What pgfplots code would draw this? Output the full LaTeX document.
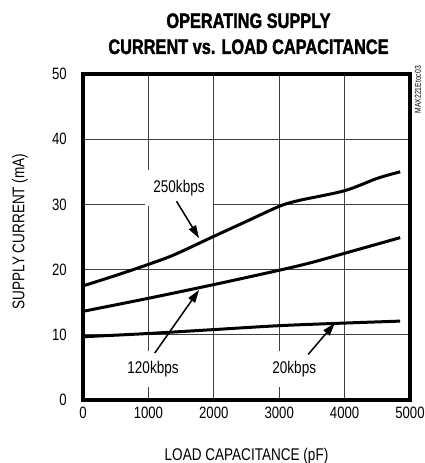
\documentclass[border=0pt]{standalone}
\usepackage{fontspec}
\setmainfont{Liberation Sans}[FakeStretch=0.8]
\newfontfamily\titlefont{Liberation Sans}[FakeStretch=0.78, BoldFeatures={FakeStretch=0.78, FakeBold=1.6}]
\newfontfamily\smallfont{Liberation Sans}[FakeStretch=0.8]
\usepackage{pgfplots}
\pgfplotsset{compat=1.18}
\usetikzlibrary{arrows.meta}
\begin{document}
\begin{tikzpicture}
\path[use as bounding box] (-83bp,-63bp) rectangle (342bp,400bp);
\begin{axis}[
  at={(0,0)}, anchor=south west,
  width=327bp, height=326bp, scale only axis,
  xmin=0, xmax=5000, ymin=0, ymax=50,
  xtick={0,1000,2000,3000,4000,5000},
  ytick={0,10,20,30,40,50},
  major tick length=0pt,
  clip mode=individual,
  /pgf/number format/assume math mode=true,
  /pgf/number format/1000 sep={},
  scaled x ticks=false,
  grid=major,
  major grid style={black!75, line width=0.8bp},
  axis line style={line width=4bp},
  tick label style={font=\fontsize{16.5}{19}\selectfont, inner sep=0pt},
  xticklabel style={anchor=north, yshift=-7bp},
  yticklabel style={anchor=east, xshift=-16bp},
  label style={font=\fontsize{17}{20}\selectfont, inner sep=0pt},
  xlabel={LOAD CAPACITANCE (pF)},
  xlabel style={at={(axis description cs:0.5,0)}, anchor=north, yshift=-48bp},
  ylabel={SUPPLY CURRENT (mA)},
  ylabel style={at={(axis description cs:-0.193,0.517)}, anchor=center},
]
\addplot[black, line width=3bp, smooth, no marks] coordinates {(0,17.5) (500,19.1) (1000,20.8) (1400,22.3) (2000,25.1) (2500,27.4) (3000,29.7) (3300,30.6) (4000,32.1) (4500,34.0) (4850,35.0)};
\addplot[black, line width=3bp, smooth, no marks] coordinates {(0,13.6) (1000,15.6) (2000,17.7) (3000,19.9) (3500,21.1) (4000,22.5) (4850,24.9)};
\addplot[black, line width=3bp, smooth, no marks] coordinates {(0,9.7) (1000,10.2) (2000,10.8) (3000,11.4) (4000,11.8) (4850,12.1)};
\node[fill=white, inner xsep=8bp, inner ysep=10bp, font=\fontsize{17}{19}\selectfont] at (axis cs:1468,32.5) {250kbps};
\node[fill=white, inner xsep=8bp, inner ysep=10bp, font=\fontsize{17}{19}\selectfont] at (axis cs:1071,4.8) {120kbps};
\node[fill=white, inner xsep=8bp, inner ysep=10bp, font=\fontsize{17}{19}\selectfont] at (axis cs:3230,4.8) {20kbps};
\draw[line width=1.5bp, -{Triangle[length=13bp,width=8bp]}] (axis cs:1429,30.5) -- (axis cs:1776,24.8);
\draw[line width=1.5bp, -{Triangle[length=13bp,width=8bp]}] (axis cs:1097,7.2) -- (axis cs:1776,16.9);
\draw[line width=1.5bp, -{Triangle[length=13bp,width=8bp]}] (axis cs:3444,7.0) -- (axis cs:3852,11.8);
\end{axis}
\node[anchor=base, font=\titlefont\bfseries\fontsize{21}{24}\selectfont] at (165.5bp,372bp) {OPERATING SUPPLY};
\node[anchor=base, font=\titlefont\bfseries\fontsize{21}{24}\selectfont] at (165.5bp,346bp) {CURRENT vs. LOAD CAPACITANCE};
\node[rotate=90, anchor=east, inner sep=0pt, font=\smallfont\fontsize{8.5}{10}\selectfont] at (335bp,334bp) {MAX221Etoc03};
\end{tikzpicture}
\end{document}
